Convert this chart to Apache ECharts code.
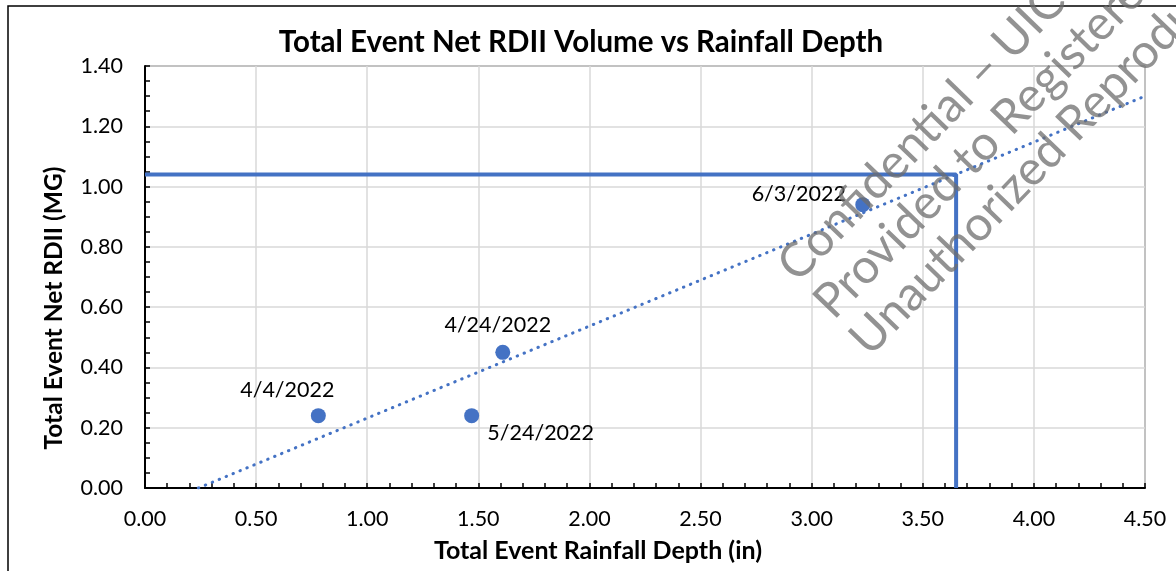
<!DOCTYPE html>
<html>
<head>
<meta charset="utf-8">
<script src="https://cdn.jsdelivr.net/npm/echarts@6/dist/echarts.min.js"></script>
<style>
  html, body { margin: 0; padding: 0; background: #fff; }
  #chart { width: 1176px; height: 571px; }
</style>
</head>
<body>
<div id="chart"></div>
<script>
// event points: [rainfall depth (in), net RDII (MG)]
const eventNames = ["4/4/2022", "4/24/2022", "5/24/2022", "6/3/2022"];
const rainfall = [0.78, 1.61, 1.47, 3.23];
const rdii = [0.24, 0.45, 0.24, 0.94];
// label offsets from the point centre (px)
const labelOffsets = [[-31, -26], [-5, -27], [69, 17], [-64, -11]];

// linear trendline ends
const trendX = [0.24, 4.5];
const trendY = [0, 1.3];

// design event guide lines
const designX = [0, 3.65, 3.65];
const designY = [1.04, 1.04, 0];

const watermark = ["Confidential \u2013 UIC \u2013", "Provided to Registered", "Unauthorized Reproduction"];

const blue = "#4472C4";
const font = "Lato, 'Open Sans', sans-serif";

const chart = echarts.init(document.getElementById("chart"));

const points = rainfall.map((x, i) => ({
    value: [x, rdii[i]],
    label: {
        show: true,
        formatter: eventNames[i],
        position: "inside",
        offset: labelOffsets[i],
        color: "#000",
        fontSize: 21.5,
        fontFamily: font,
    },
}));

// watermark text, rotated up to the right
const wmPos = [[804, 290], [840, 327], [876, 364]];
const wmGraphics = watermark.map((t, i) => ({
    type: "text",
    x: wmPos[i][0],
    y: wmPos[i][1],
    rotation: (46 * Math.PI) / 180,
    z: 100,
    style: {
        text: t,
        font: "48px " + font,
        fill: "rgba(110,110,110,0.75)",
        verticalAlign: "bottom",
    },
}));

const option = {
    animation: false,
    backgroundColor: "#fff",
    title: {
        text: "Total Event Net RDII Volume vs Rainfall Depth",
        left: 576,
        top: 22,
        textAlign: "center",
        textStyle: {
            fontFamily: font,
            fontWeight: "bold",
            fontSize: 29.5,
            color: "#000",
        },
    },
    grid: {
        left: 145,
        top: 66,
        right: 31,
        bottom: 83,
        show: true,
        borderColor: "#000",
        borderWidth: 1,
    },
    xAxis: {
        type: "value",
        min: 0,
        max: 4.5,
        interval: 0.5,
        name: "Total Event Rainfall Depth (in)",
        nameLocation: "middle",
        nameGap: 50,
        nameTextStyle: {
            fontFamily: font,
            fontWeight: "bold",
            fontSize: 25,
            color: "#000",
            padding: [0, 94, 0, 0],
        },
        axisLine: { lineStyle: { color: "#000", width: 2 } },
        axisTick: { inside: true, length: 5, lineStyle: { color: "#000", width: 1.5 } },
        minorTick: { show: true, splitNumber: 5, length: 5, lineStyle: { color: "#000", width: 1.5 } },
        axisLabel: {
            formatter: (v) => v.toFixed(2),
            fontFamily: font,
            fontSize: 21.5,
            color: "#000",
            margin: 20,
        },
        splitLine: { lineStyle: { color: "#d9d9d9", width: 1.5 } },
    },
    yAxis: {
        type: "value",
        min: 0,
        max: 1.4,
        interval: 0.2,
        name: "Total Event Net RDII (MG)",
        nameLocation: "middle",
        nameGap: 78,
        nameTextStyle: {
            fontFamily: font,
            fontWeight: "bold",
            fontSize: 24.5,
            color: "#000",
            padding: [0, 62, 0, 0],
        },
        axisLine: { show: true, lineStyle: { color: "#000", width: 2 } },
        axisTick: { show: true, inside: true, length: 5, lineStyle: { color: "#000", width: 1.5 } },
        minorTick: { show: true, splitNumber: 4, length: 5, lineStyle: { color: "#000", width: 1.5 } },
        axisLabel: {
            formatter: (v) => v.toFixed(2),
            fontFamily: font,
            fontSize: 21.5,
            color: "#000",
            margin: 22,
        },
        splitLine: { lineStyle: { color: "#d9d9d9", width: 1.5 } },
    },
    graphic: [
        {
            type: "rect",
            shape: { x: 8, y: 6, width: 1300, height: 700 },
            style: { fill: "none", stroke: "#000", lineWidth: 1.5 },
            silent: true,
            z: 0,
        },
        ...wmGraphics,
    ],
    series: [
        {
            name: "Design",
            type: "line",
            data: designX.map((x, i) => [x, designY[i]]),
            symbol: "none",
            lineStyle: { color: blue, width: 4 },
            z: 3,
        },
        {
            name: "Trend",
            type: "line",
            data: trendX.map((x, i) => [x, trendY[i]]),
            symbol: "none",
            lineStyle: { color: blue, width: 3, type: [0.5, 7], cap: "round" },
            z: 4,
        },
        {
            name: "Events",
            type: "scatter",
            data: points,
            symbolSize: 15,
            itemStyle: { color: blue, opacity: 1 },
            z: 5,
        },
    ],
};

chart.setOption(option);
</script>
</body>
</html>
